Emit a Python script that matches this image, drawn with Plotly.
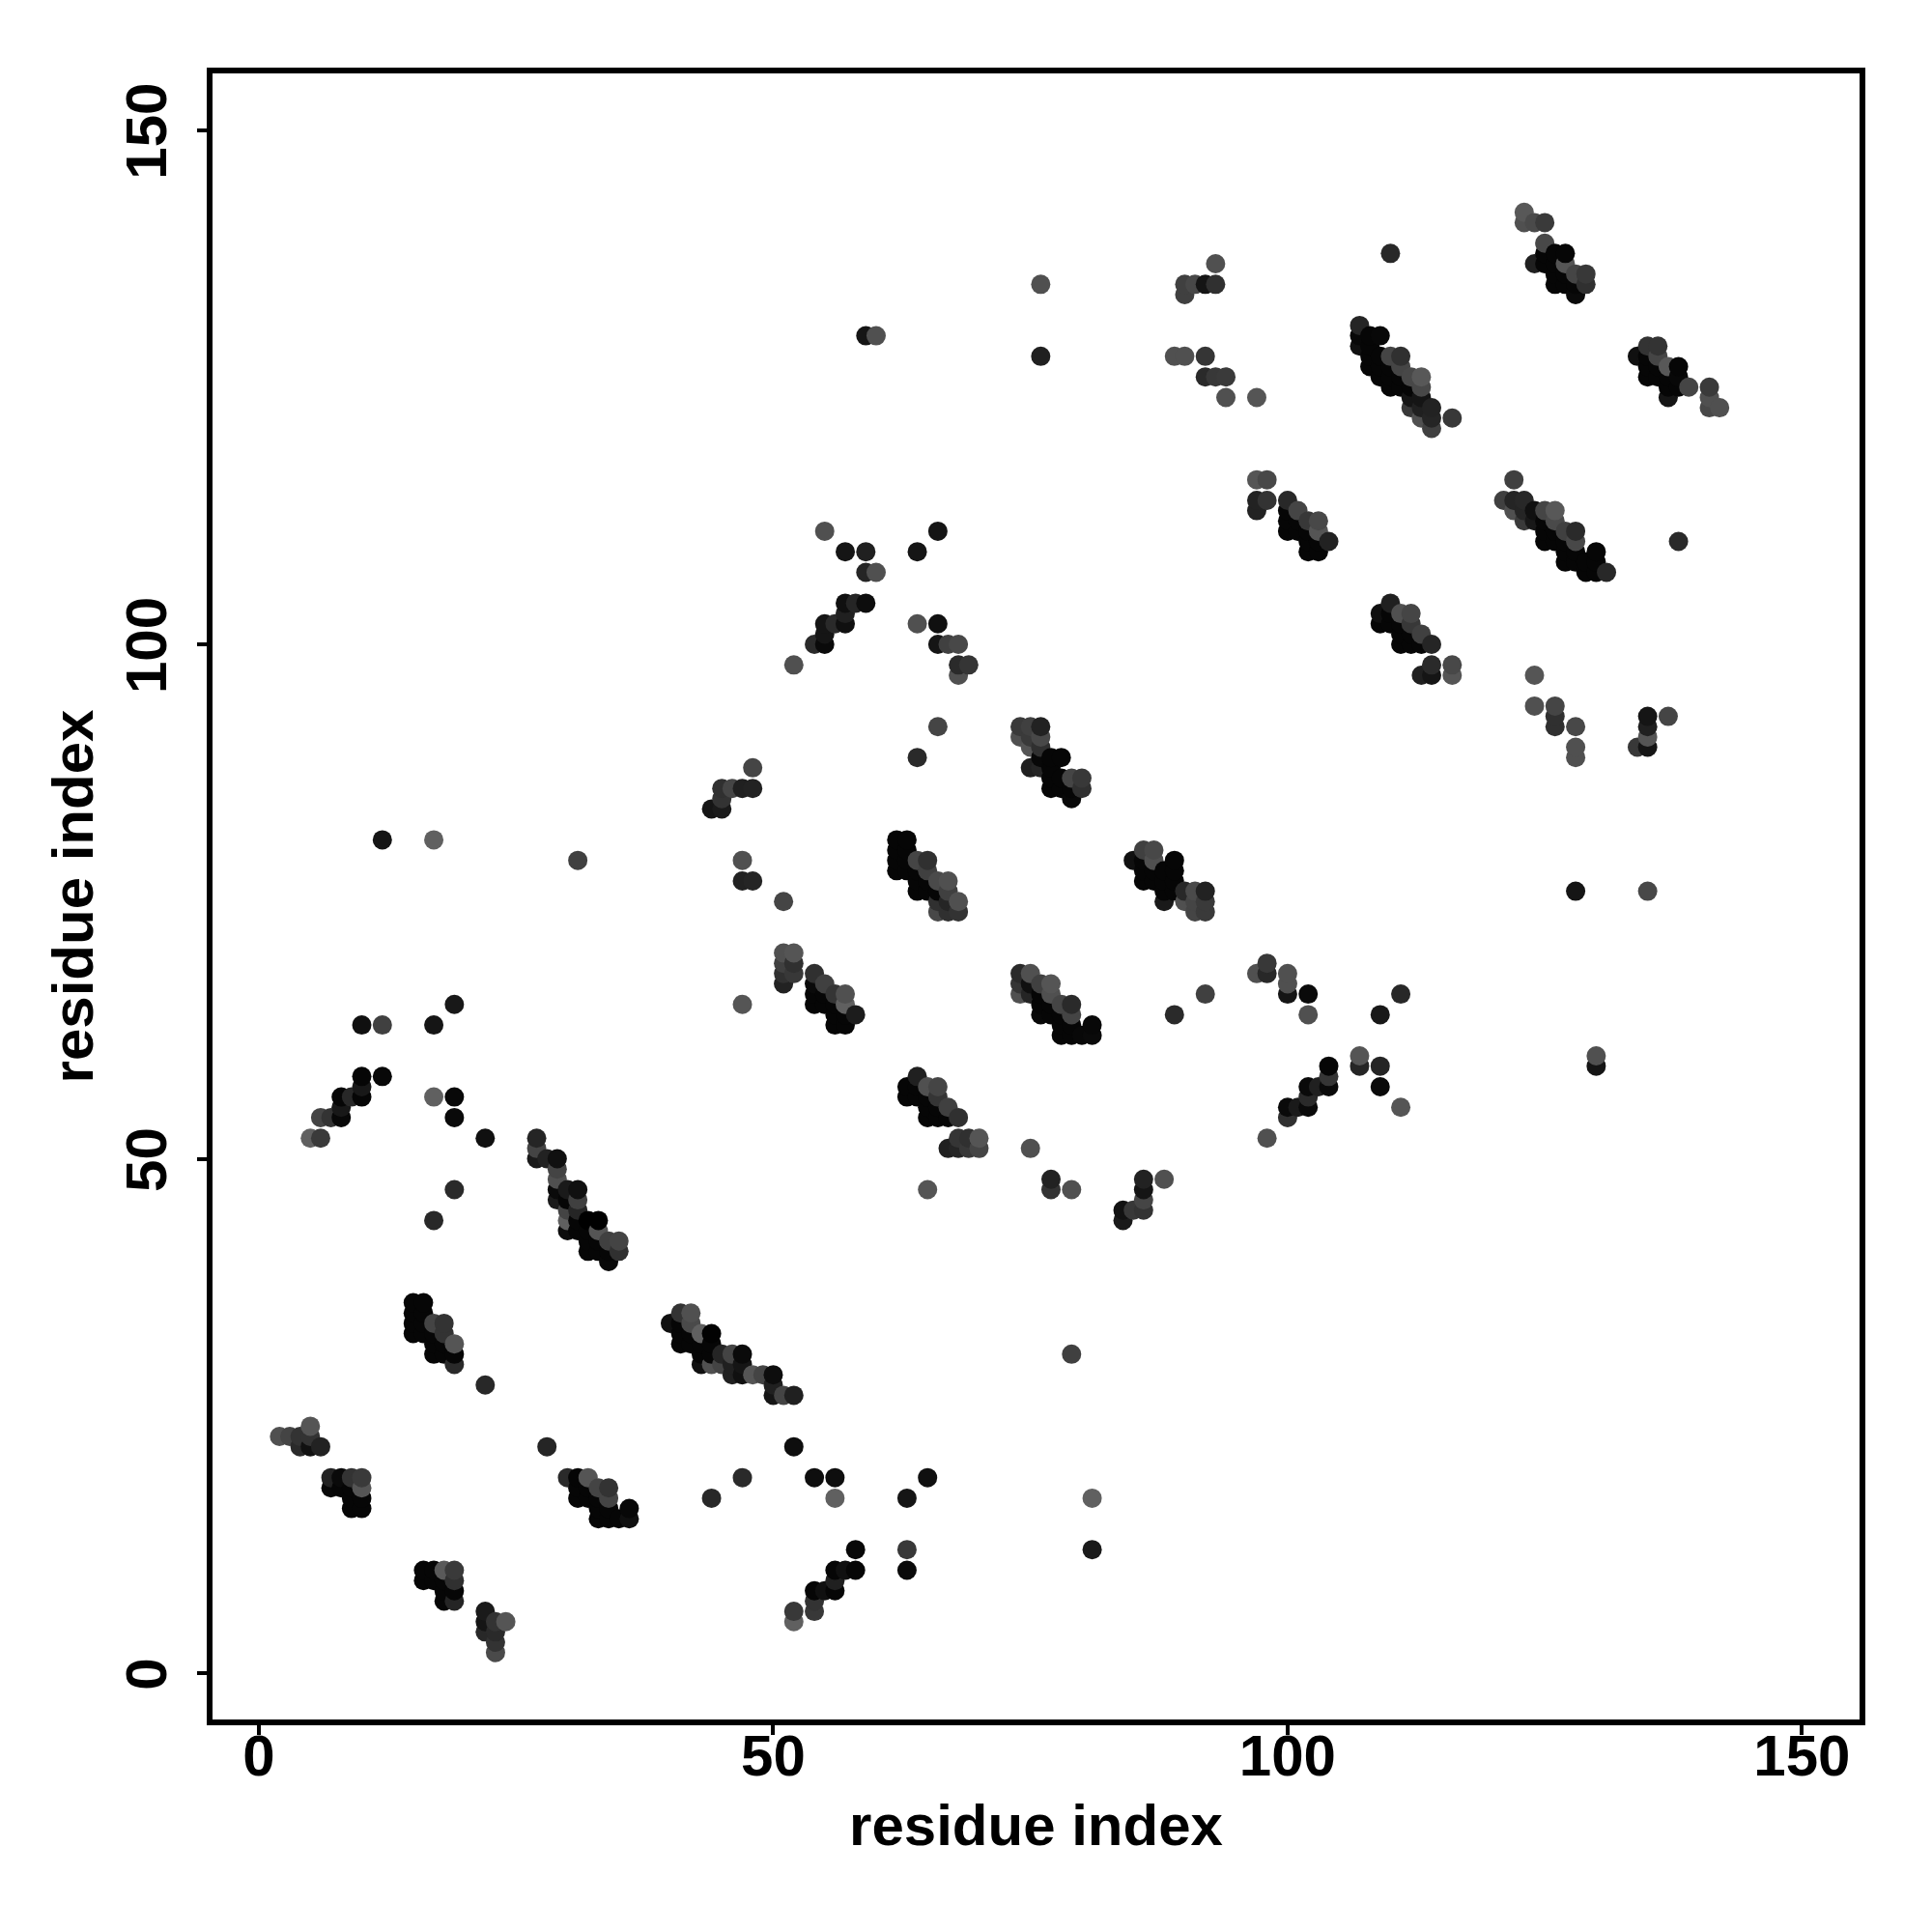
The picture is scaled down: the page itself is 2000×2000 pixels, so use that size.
import plotly.graph_objects as go

DARK = 0x06
# contact clusters: (residue i, residue j, grey level); two-item entries use DARK
c_a = [(15,36),(16,36),(15,35),(15,34),(15,33),(16,35),(16,34),(16,33),(17,34,0x44),(18,34,0x33),(17,33),(18,33,0x33),(17,32),(19,32,0x55),(18,32),(17,31),(18,31),(19,31),(19,30,0x2a)]
c_b = [(2,23,0x50),(3,23,0x44),(4,23,0x33),(4,22,0x2a),(5,24,0x55),(5,23,0x33),(5,22,0x11),(6,22,0x22)]
c_c = [(7,19,0x22),(8,19,0x0a),(9,19,0x33),(10,19,0x3a),(10,18,0x55),(7,18,0x08),(8,18),(9,18),(9,17),(10,17),(9,16),(10,16)]
c_d = [(22,28,0x28),(28,22,0x25),(30,19,0x2a),(31,19,0x05),(32,19,0x55),(33,18,0x44),(34,18,0x33),(34,17,0x44),(31,18),(32,18),(31,17),(32,17),(33,17),(33,16),(34,16),(33,15),(34,15),(35,15),(36,16,0x08),(36,15,0x10)]
c_e = [(16,10),(17,10),(18,10,0x5a),(19,10,0x3a),(19,9,0x30),(16,9),(17,9),(18,9),(18,8),(19,8),(18,7),(19,7,0x25)]
c_f = [(22,6,0x1a),(22,5,0x15),(22,4,0x28),(23,5,0x33),(24,5,0x55),(23,4,0x2a),(23,3,0x33),(23,2,0x4a)]
c_g = [(40,34,0x10),(41,35,0x33),(42,35,0x50),(42,34,0x4a),(41,34),(41,33),(42,33),(41,32),(43,33,0x60),(44,33,0x02),(44,32),(43,32),(42,32),(43,31),(44,31),(45,31,0x25),(46,31,0x44),(47,31,0x0a),(43,30,0x10),(44,30,0x50),(45,30,0x44),(46,30,0x20),(47,30,0x15),(46,29,0x20),(47,29,0x10),(48,29,0x55),(49,29,0x44),(50,29,0x0d),(50,28,0x20),(50,27,0x15),(51,27,0x44),(52,27,0x20)]
c_h = [(79,31,0x40),(52,22,0x0e),(47,19,0x2a),(44,17,0x28),(54,19,0x0e),(56,19,0x0e),(56,17,0x60),(65,19,0x10),(63,17,0x15),(81,17,0x60),(81,12,0x1a),(63,12,0x38),(63,10,0x0a),(58,12,0x08),(56,10),(57,10,0x10),(58,10),(56,9,0x20),(54,8),(55,8,0x10),(56,8),(54,7,0x33),(54,6,0x38),(52,6,0x38),(52,5,0x60)]
c_i = [(19,65,0x18),(10,63,0x10),(12,63,0x40),(17,63,0x15),(10,58),(12,58,0x08),(10,57,0x18),(10,56),(9,56,0x28),(8,56),(8,55,0x18),(8,54,0x08),(7,54,0x33),(6,54,0x44),(5,52,0x60),(6,52,0x3a),(17,56,0x60),(19,56,0x08),(19,54,0x0a),(22,52,0x10),(19,47,0x2a),(17,44,0x28)]
c_j = [(27,52,0x25),(27,51,0x44),(27,50,0x1a),(28,50,0x22),(29,50,0x10),(29,49,0x44),(29,48,0x50),(29,47,0x0a),(29,46,0x1a),(30,47,0x1a),(31,47,0x10),(31,46,0x40),(30,46),(30,45,0x44),(30,44,0x60),(30,43,0x0d),(31,45,0x25),(31,44),(31,43),(32,44,0),(33,44,0),(33,43,0x55),(34,42,0x40),(35,42,0x44),(35,41,0x30),(32,43),(32,42),(33,42),(32,41),(33,41),(34,41),(34,40,0x08)]
c_k = [(51,70,0x50),(52,70,0x55),(51,69,0x40),(52,69,0x30),(51,68,0x30),(52,68,0x38),(51,67,0x22),(54,68,0x30),(55,67,0x40),(56,66,0x35),(57,66,0x50),(57,65,0x60),(58,64,0x1c),(54,67,0x0a),(54,66),(54,65),(55,66),(55,65),(56,65),(56,64),(57,64),(56,63),(57,63)]
c_l = [(74,68,0x2a),(75,68,0x50),(74,67,0x35),(74,66,0x50),(75,67,0x10),(75,66,0x25),(76,67,0x40),(77,67,0x55),(77,66,0x50),(76,66),(76,65),(76,64,0x08),(77,65),(77,64),(78,65,0x45),(79,65,0x2a),(79,64,0x44),(78,64),(78,63),(79,63),(78,62),(79,62),(80,62,0x08),(81,63,0x08),(81,62,0x0a)]
c_m = [(64,58,0x20),(63,57),(63,56),(64,57),(64,56),(65,57,0x50),(66,57,0x45),(65,56),(66,56,0x35),(67,55,0x40),(65,55),(66,55),(68,54,0x30),(65,54),(66,54),(67,54),(67,51,0x20),(68,51,0x25),(69,51,0x38),(70,51,0x45),(68,52,0x35),(69,52,0x30),(70,52,0x55)]
c_n = [(75,51,0x50),(65,47,0x55),(77,48,0x22),(77,47,0x33),(79,47,0x50),(92,66,0x40),(89,64,0x2a),(97,68,0x50),(98,69,0x38),(98,68,0x28),(100,68,0x50),(100,67,0x50),(100,66,0x15),(102,66,0x0a),(102,64,0x50),(109,64,0x18),(111,66,0x28)]
c_o = [(104,59),(104,58,0x35),(104,57,0x0a),(103,57,0x20),(102,57,0x0a),(102,56,0x2a),(102,55,0x0a),(101,55,0x1a),(100,55,0x0a),(100,54,0x30),(98,52,0x50),(107,60,0x55),(107,59,0x25),(109,59,0x25),(109,57,0x0a),(111,55,0x55)]
c_p = [(86,48,0x22),(86,47,0x15),(86,46,0x45),(86,45,0x33),(85,45,0x38),(84,45,0x12),(84,44,0x1a),(88,48,0x50)]
c_q = [(66,92,0x45),(64,89,0x2a),(74,92,0x3a),(75,92,0x40),(76,92,0x22),(74,91,0x50),(75,91,0x3a),(76,91,0x48),(75,90,0x55),(76,90,0x30),(76,89,0x08),(77,89),(78,89),(75,88,0x20),(76,88,0x25),(77,88),(77,87),(78,87),(77,86),(78,86),(79,87,0x45),(80,87,0x38),(80,86,0x30),(79,86),(79,85,0x08)]
c_r = [(62,81),(63,81),(62,80),(62,79),(62,78),(63,80),(63,79),(63,78),(64,79,0x45),(65,79,0x30),(64,78),(65,78,0x40),(64,77),(64,76),(65,77),(65,76),(66,77,0x4a),(67,77,0x50),(66,76),(67,76,0x40),(68,75,0x50),(66,75,0x30),(67,75,0x25),(66,74,0x48),(67,74,0x30),(68,74,0x33)]
c_s = [(85,79,0x10),(86,80,0x40),(87,80,0x48),(87,79,0x50),(86,79),(86,78),(86,77),(87,78),(87,77),(88,78),(88,77),(89,78),(89,79),(89,77),(88,76),(89,76),(88,75,0x1a),(90,76,0x28),(91,76,0x4a),(92,76,0x22),(90,75,0x50),(91,75,0x45),(92,75,0x3a),(91,74,0x45),(92,74,0x3a)]
c_t = [(12,81,0x15),(17,81,0x60),(31,79,0x40),(47,79,0x50),(47,77,0x22),(48,77,0x25),(51,75,0x45),(47,65,0x55),(44,84,0x15),(45,84,0x1a),(45,85,0x33),(45,86,0x30),(46,86,0x45),(47,86,0x20),(48,86,0x22),(48,88,0x45)]
c_u = [(52,98,0x50),(54,100,0x2a),(55,100,0x0a),(55,102,0x15),(55,101,0x15),(56,102,0x2a),(57,102,0x10),(57,103,0x20),(57,104,0x10),(58,104,0x25),(59,104,0x0d),(55,111,0x50),(57,109,0x15),(59,109,0x20),(59,107,0x25),(60,107,0x50),(64,109,0x15),(66,111,0x15),(64,102,0x50),(66,102,0x10),(66,100,0x15),(67,100,0x40),(68,100,0x48),(68,98,0x2a),(69,98,0x35),(68,97,0x50)]
c_v = [(59,130,0x15),(60,130,0x50),(76,135,0x50),(76,128,0x20),(89,128,0x50),(90,128,0x50),(90,135,0x40),(90,134,0x40),(91,135,0x48),(92,135,0x15),(93,135,0x30),(93,137,0x50),(92,128,0x35),(92,126,0x2a),(93,126,0x38),(94,126,0x3a),(94,124,0x50),(97,124,0x55)]
c_w = [(97,116,0x55),(98,116,0x48),(97,114,0x22),(98,114,0x33),(97,113,0x22),(100,114,0x28),(101,113,0x45),(102,112,0x38),(103,112,0x48),(103,111,0x55),(104,110,0x22),(100,113),(100,112),(100,111),(101,112),(101,111),(102,111),(102,110),(103,110),(102,109),(103,109)]
c_x = [(110,104,0x20),(109,103,0x10),(109,102),(110,103),(110,102),(111,103,0x50),(112,103,0x45),(111,102),(112,102,0x38),(113,101,0x40),(111,101),(112,101),(114,100,0x25),(111,100),(112,100),(113,100),(114,98,0x2a),(113,97,0x20),(114,97,0x15),(116,98,0x48),(116,97,0x55)]
c_y = [(124,97,0x55),(124,94,0x50),(126,94,0x45),(126,93,0x30),(126,92,0x30),(128,92,0x48),(128,90,0x50),(128,89,0x50),(128,76,0x15),(135,76,0x48),(130,60,0x50),(130,59,0x15),(134,90,0x38),(135,90,0x15),(135,91,0x55),(135,92,0x20),(135,93,0x15),(137,93,0x45),(138,110,0x2a),(110,138,0x28)]
c_z = [(122,116,0x40),(121,114,0x40),(122,114,0x25),(123,114,0x28),(122,113,0x50),(123,113,0x25),(123,112,0x3a),(124,113,0x10),(124,112,0x18),(125,113,0x45),(126,113,0x58),(126,112,0x4a),(125,112),(125,111),(125,110),(126,111),(126,110),(127,111,0x40),(128,111,0x2a),(128,110,0x48),(127,110),(127,109),(127,108),(128,109),(128,108),(129,108),(129,107),(130,109),(130,108),(130,107),(131,107,0x28)]
c_aa = [(107,131,0x25),(107,130,0x08),(107,129,0x10),(108,130),(109,130,0x08),(108,129),(108,128),(108,127),(109,128),(110,128,0x45),(111,128,0x30),(111,127,0x45),(109,127),(110,127),(109,126),(110,126),(110,125),(111,126),(111,125),(112,126,0x48),(113,126,0x58),(113,125,0x48),(112,125),(112,124,0x15),(113,124,0x15),(112,123,0x38),(114,123,0x22),(114,122,0x25),(114,121,0x40),(113,122,0x50),(113,123,0x20),(116,122,0x38)]
c_ab = [(135,129,0x33),(136,129,0x33),(134,128,0x10),(135,128),(136,128,0x45),(137,127,0x58),(138,127),(135,127),(136,127),(135,126),(136,126),(137,126),(138,126,0x08),(137,125),(138,125),(137,124,0x15),(139,125,0x45),(141,125,0x3a),(141,124,0x50),(141,123,0x48),(142,123,0x50)]
c_ac = [(123,142,0x58),(123,141,0x50),(124,141,0x4a),(125,141,0x3a),(125,139,0x48),(124,137,0x20),(125,138),(125,137),(126,138),(127,138),(127,137,0x55),(126,137),(126,136),(126,135),(127,136),(127,135),(128,136,0x45),(129,136,0x38),(129,135,0x30),(128,135),(128,134,0x0a)]

clusters = [c_a,c_b,c_c,c_d,c_e,c_f,c_g,c_h,c_i,c_j,c_k,c_l,c_m,c_n,c_o,c_p,c_q,c_r,c_s,c_t,c_u,c_v,c_w,c_x,c_y,c_z,c_aa,c_ab,c_ac]
points = sorted(((p[0], p[1], p[2] if len(p) > 2 else DARK) for c in clusters for p in c), key=lambda p: (p[0], p[1]))
residue_i = [p[0] for p in points]
residue_j = [p[1] for p in points]
colors = [f"rgb({p[2]},{p[2]},{p[2]})" for p in points]

tick_vals = [0, 50, 100, 150]
tick_text = ["0", "50", "100", "150"]
FONT = "Liberation Sans"

fig = go.Figure(go.Scatter(x=residue_i, y=residue_j, mode="markers",
                           marker=dict(size=20, color=colors, line=dict(width=0))))
axis = dict(tickmode="array", tickvals=tick_vals, ticktext=tick_text, ticks="outside",
            ticklen=10, tickwidth=4, tickcolor="black", showgrid=False, zeroline=False,
            showline=True, linecolor="black", linewidth=6, mirror=True,
            tickfont=dict(family=FONT, size=60, color="black", weight="bold"))
fig.update_layout(width=2000, height=2000, paper_bgcolor="white", plot_bgcolor="white",
                  showlegend=False, margin=dict(l=212, r=83, t=68, b=228, autoexpand=False))
fig.update_xaxes(range=[-4.51, 155.6], ticklabelstandoff=-30,
                 title=dict(text="residue index", standoff=20,
                 font=dict(family=FONT, size=60, color="black", weight="bold")), **axis)
fig.update_yaxes(range=[-4.51, 155.5], tickangle=-90, ticklabelstandoff=8, ticklabelshift=10,
                 title=dict(text="residue index", standoff=4,
                 font=dict(family=FONT, size=60, color="black", weight="bold")), **axis)
fig.write_html("out.html")
